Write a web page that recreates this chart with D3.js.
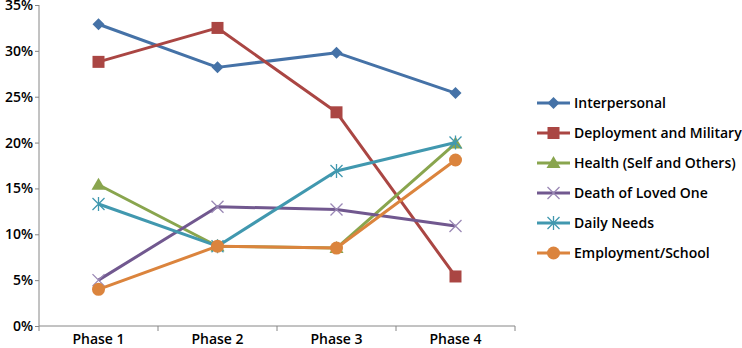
<!DOCTYPE html>
<html><head><meta charset="utf-8">
<script src="https://cdn.jsdelivr.net/npm/d3@7"></script>
<style>body{margin:0;background:#fff}svg{display:block}text{font-family:"Open Sans",sans-serif;fill:#000}</style>
</head><body><svg id="c" width="742" height="348"></svg>
<script>
const categories = ["Phase 1","Phase 2","Phase 3","Phase 4"];
const seriesNames = ["Interpersonal","Deployment and Military","Health (Self and Others)","Death of Loved One","Daily Needs","Employment/School"];
const interpersonal = [32.9, 28.2, 29.8, 25.4];
const deployment = [28.8, 32.5, 23.3, 5.4];
const health = [15.4, 8.7, 8.5, 19.9];
const death = [5.0, 13.0, 12.7, 10.9];
const dailyNeeds = [13.3, 8.7, 16.9, 20.0];
const employment = [4.0, 8.7, 8.5, 18.1];
const yTicks = [0,5,10,15,20,25,30,35];
const colors = ["#4572A7","#AA4643","#89A54E","#71588F","#4198AF","#DB843D"];
const markers = ["diamond","square","triangle","x","star","circle"];
const seriesValues = [interpersonal, deployment, health, death, dailyNeeds, employment];

const svg = d3.select("#c");
const m = {l:39, r:227, t:5, b:22};
const W = 742, H = 348;
const x = d3.scaleBand().domain(categories).range([m.l, W-m.r]).padding(0);
const y = d3.scaleLinear().domain([0,35]).range([H-m.b, m.t]);

const axisColor = "#868686";
const yAx = svg.append("g").attr("transform",`translate(${m.l},0)`)
  .call(d3.axisLeft(y).tickValues(yTicks).tickFormat(d=>d+"%").tickSize(4).tickPadding(2));
const xAx = svg.append("g").attr("transform",`translate(0,${H-m.b})`)
  .call(d3.axisBottom(x).tickSize(0).tickPadding(8));
[yAx,xAx].forEach(g=>{g.selectAll("path,line").attr("stroke",axisColor);g.selectAll("text").attr("font-size",14).attr("font-weight",600).attr("font-family","'Open Sans',sans-serif").attr("fill","#000");});
yAx.select("path").attr("d",`M0,${m.t}V${H-m.b}`);
xAx.select("path").attr("d",`M${m.l},0H${W-m.r}`);
const bounds = categories.map(c=>x(c)).concat([x(categories[categories.length-1])+x.bandwidth()]);
xAx.selectAll("line.b").data(bounds).enter().append("line").attr("class","b")
  .attr("x1",d=>d).attr("x2",d=>d).attr("y1",0).attr("y2",5).attr("stroke",axisColor);

const cx = c => x(c)+x.bandwidth()/2;
const line = d3.line().x((d,i)=>cx(categories[i])).y(d=>y(d));

function drawMarker(g, type, color, px, py){
  if(type==="diamond") g.append("path").attr("d",`M${px},${py-6}L${px+6},${py}L${px},${py+6}L${px-6},${py}Z`).attr("fill",color);
  else if(type==="square") g.append("rect").attr("x",px-6).attr("y",py-6).attr("width",12).attr("height",12).attr("fill",color);
  else if(type==="triangle") g.append("path").attr("d",`M${px},${py-7}L${px+7},${py+5}L${px-7},${py+5}Z`).attr("fill",color);
  else if(type==="circle") g.append("circle").attr("cx",px).attr("cy",py).attr("r",6.5).attr("fill",color);
  else if(type==="x") g.append("path").attr("d",`M${px-6},${py-6}L${px+6},${py+6}M${px-6},${py+6}L${px+6},${py-6}`).attr("stroke",color).attr("stroke-width",1.3).attr("fill","none");
  else if(type==="star") g.append("path").attr("d",`M${px-6},${py-6}L${px+6},${py+6}M${px-6},${py+6}L${px+6},${py-6}M${px},${py-7}V${py+7}`).attr("stroke",color).attr("stroke-width",1.3).attr("fill","none");
}

seriesValues.forEach((vals,si)=>{
  const g = svg.append("g");
  g.append("path").datum(vals).attr("d",line).attr("fill","none").attr("stroke",colors[si]).attr("stroke-width",3).attr("stroke-linejoin","round");
  vals.forEach((v,i)=>drawMarker(g, markers[si], si===3?"#9A88B5":colors[si], cx(categories[i]), y(v)));
});

const lg = svg.append("g");
seriesNames.forEach((n,i)=>{
  const yy = 103 + i*30;
  lg.append("line").attr("x1",537).attr("x2",570).attr("y1",yy).attr("y2",yy).attr("stroke",colors[i]).attr("stroke-width",3);
  drawMarker(lg, markers[i], i===3?"#9A88B5":colors[i], 553.5, yy);
  lg.append("text").attr("x",574).attr("y",yy).attr("dy","0.35em").attr("font-size",14).attr("font-weight",600).text(n);
});
</script></body></html>
